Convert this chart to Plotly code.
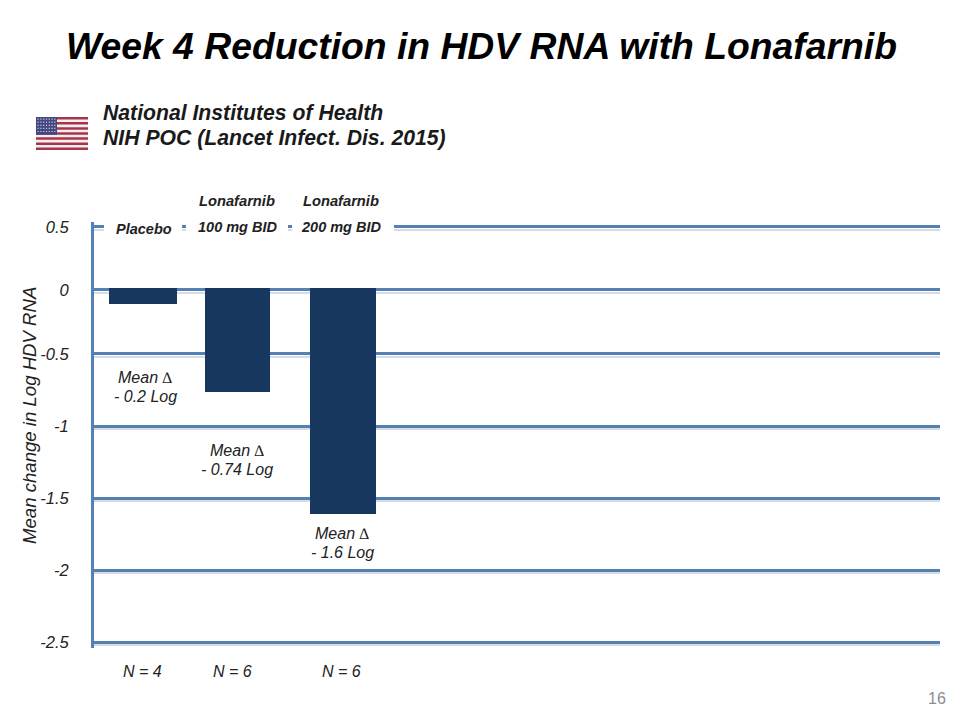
import plotly.graph_objects as go

categories = ["Placebo", "100 mg BID", "200 mg BID"]
drug_labels = ["", "Lonafarnib", "Lonafarnib"]
values = [-0.115, -0.735, -1.595]
slots = [0.0, 0.945, 2.0]
bar_widths = [0.68, 0.655, 0.66]
mean_labels = ["- 0.2 Log", "- 0.74 Log", "- 1.6 Log"]
n_labels = ["N = 4", "N = 6", "N = 6"]
tick_vals = [0.431, -0.014, -0.466, -0.975, -1.483, -1.992, -2.5]
tick_text = ["0.5", "0", "-0.5", "-1", "-1.5", "-2", "-2.5"]

W, H = 960, 720
L, R, T, B = 94, 940, 222, 648
FONT = "Liberation Sans"
GRID = "#5480b4"
Y_RANGE = [-2.542, 0.466]
X_RANGE = [-0.49, 7.97]


def px(x):
    return (x - L) / (R - L)


def py(y):
    return (B - y) / (B - T)


fig = go.Figure()
# shadow axis underneath
fig.add_trace(go.Scatter(x=[0], y=[0], mode="markers", marker=dict(opacity=0),
                         hoverinfo="skip", showlegend=False, xaxis="x", yaxis="y"))
fig.add_trace(go.Bar(x=slots, y=values, width=bar_widths,
                     marker=dict(color="#17375e", line=dict(width=0)),
                     showlegend=False, xaxis="x", yaxis="y2"))

ann = []


def text(x, y, s, size, bold=False, italic=True, color="#111111", **kw):
    ann.append(dict(xref="paper", yref="paper", x=px(x), y=py(y), text=f"<b>{s}</b>" if bold else s,
                    showarrow=False, xanchor=kw.pop("xanchor", "center"), yanchor="middle",
                    font=dict(family=FONT, size=size, color=color, style="italic" if italic else "normal"), **kw))


text(481, 46, "Week 4 Reduction in HDV RNA with Lonafarnib", 37.3, bold=True, color="#000000")
text(101, 112, "National Institutes of Health", 21.2, bold=True, xanchor="left", color="#1a1a1a")
text(101, 138, "NIH POC (Lancet Infect. Dis. 2015)", 21.2, bold=True, xanchor="left", color="#1a1a1a")

box_centers = [143, 237, 343]
box_widths = [78, 102, 102]
cat_y = [229, 227, 227]
cat_x = [144, 237.5, 341]
# white boxes that break the top gridline behind the group labels
shapes = []
for i, c in enumerate(categories):
    shapes.append(dict(type="rect", xref="paper", yref="paper",
                       x0=px(box_centers[i] - box_widths[i] / 2), x1=px(box_centers[i] + box_widths[i] / 2),
                       y0=py(240), y1=py(216), fillcolor="#ffffff", line=dict(width=0), layer="above"))
for i, c in enumerate(categories):
    text(cat_x[i], cat_y[i], c, 14.5, bold=True, color="#222222")
    if drug_labels[i]:
        text(cat_x[i] - 1 if i == 1 else cat_x[i], 201, drug_labels[i], 14.7, bold=True, color="#222222")

delta = "<span style=\"font-family:'Liberation Serif'\">∆</span>"
mean_x = [145, 237, 342]
mean_y = [377, 450, 533]
for i, m in enumerate(mean_labels):
    text(mean_x[i], mean_y[i], "Mean " + delta, 16, color="#222222")
    text(mean_x[i], mean_y[i] + 19, m, 16, color="#222222")

n_x = [142, 232, 341]
for i, n in enumerate(n_labels):
    text(n_x[i], 671, n, 16, color="#222222")

ann.append(dict(xref="paper", yref="paper", x=px(29), y=py(416), text="Mean change in Log HDV RNA",
                textangle=-90, showarrow=False, xanchor="center", yanchor="middle",
                font=dict(family=FONT, size=18.6, color="#222222", style="italic")))
text(937, 698, "16", 16, italic=False, color="#8c8c8c")

# flag
fx0, fx1, fy0, fy1 = 36, 88, 117, 150
sh = (fy1 - fy0) / 13


def rect(x0, y0, x1, y1, color):
    shapes.append(dict(type="rect", xref="paper", yref="paper", x0=px(x0), x1=px(x1), y0=py(y0), y1=py(y1),
                       fillcolor=color, line=dict(width=0), layer="above"))


rect(fx0, fy0, fx1, fy1, "#f3eef0")
for k in range(0, 13, 2):
    rect(fx0, fy0 + k * sh, fx1, fy0 + (k + 1) * sh, "#a8344a")
rect(fx0, fy0, 57, fy0 + 7 * sh, "#43477f")
for r in range(5):
    for c in range(7):
        rect(fx0 + 1.5 + c * 2.8, fy0 + 1.5 + r * 3.1, fx0 + 2.7 + c * 2.8, fy0 + 2.7 + r * 3.1, "#c9cce0")

shadow_offset = 3.0 / 141.6
fig.update_layout(
    width=W, height=H, paper_bgcolor="#ffffff", plot_bgcolor="#ffffff",
    margin=dict(l=L, r=W - R, t=T, b=H - B, autoexpand=False),
    bargap=0, showlegend=False,
    annotations=ann, shapes=shapes,
    xaxis=dict(range=X_RANGE, visible=False, fixedrange=True),
    yaxis=dict(range=Y_RANGE, tickmode="array", tickvals=[v - shadow_offset for v in tick_vals],
               showticklabels=False, ticks="", showgrid=True, gridcolor="#d8dce2", gridwidth=2,
               zeroline=False, showline=False),
    yaxis2=dict(range=Y_RANGE, overlaying="y", side="left", tickmode="array", tickvals=tick_vals, ticktext=tick_text,
                tickfont=dict(family=FONT, size=16.5, color="#222222", style="italic"),
                ticks="", ticklabelstandoff=19, showgrid=True, gridcolor=GRID, gridwidth=3,
                zeroline=False, showline=True, linecolor=GRID, linewidth=3, automargin=False),
)
fig.write_html("out.html", post_script="document.body.style.margin='0';",
               config={"displayModeBar": False})
